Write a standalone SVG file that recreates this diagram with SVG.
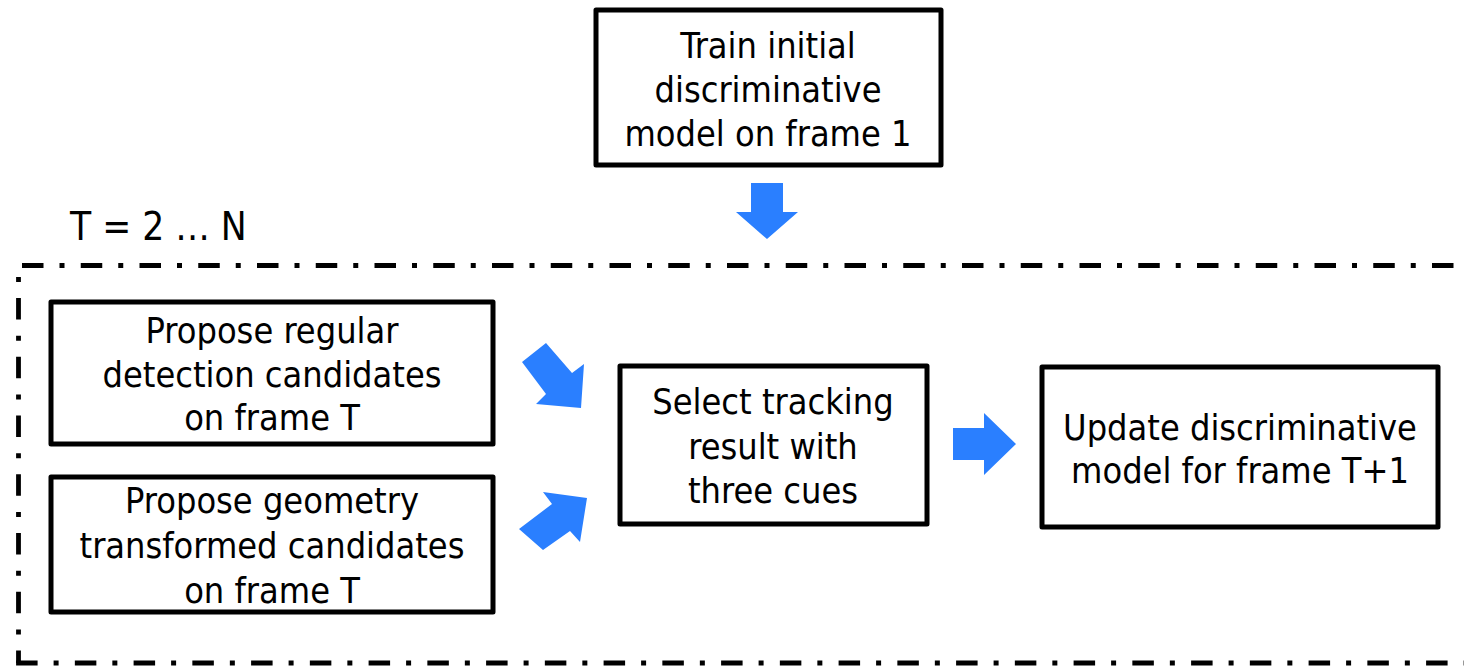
<svg xmlns="http://www.w3.org/2000/svg" width="1464" height="666" viewBox="0 0 1464 666">
<style>
.box{fill:#fff;stroke:#000;stroke-width:5;stroke-linejoin:round}
.t{font-family:"DejaVu Sans Condensed","DejaVu Sans",Tahoma,sans-serif;font-stretch:condensed;font-size:35.8px;fill:#000;text-anchor:middle}
.dd{fill:none;stroke:#000;stroke-width:4.8;stroke-dasharray:21.5 16 5 16.25}
.arr{fill:#2a7fff}
</style>
<rect width="1464" height="666" fill="#fff"/>
<g id="loop">
<line class="dd" x1="22" y1="265.5" x2="1464" y2="265.5"/>
<line class="dd" x1="18.5" y1="277" x2="18.5" y2="663" style="stroke-dasharray:5 16 21.5 16.25"/>
<line class="dd" x1="16.1" y1="663" x2="1464" y2="663"/>
<text class="t" x="70" y="240" style="text-anchor:start;font-size:38.5px">T = 2 … N</text>
</g>
<g id="train">
<rect class="box" x="596" y="10" width="345" height="155"/>
<text class="t" x="768" y="58">Train initial</text>
<text class="t" x="768" y="102">discriminative</text>
<text class="t" x="768" y="146">model on frame 1</text>
</g>
<g id="regular">
<rect class="box" x="51" y="302" width="442" height="142"/>
<text class="t" x="272" y="343">Propose regular</text>
<text class="t" x="272" y="387">detection candidates</text>
<text class="t" x="272" y="430">on frame T</text>
</g>
<g id="geometry">
<rect class="box" x="51" y="477" width="442" height="135"/>
<text class="t" x="272" y="513">Propose geometry</text>
<text class="t" x="272" y="558">transformed candidates</text>
<text class="t" x="272" y="603">on frame T</text>
</g>
<g id="select">
<rect class="box" x="620" y="366" width="307" height="158"/>
<text class="t" x="773" y="414">Select tracking</text>
<text class="t" x="773" y="459">result with</text>
<text class="t" x="773" y="503">three cues</text>
</g>
<g id="update">
<rect class="box" x="1042" y="367" width="396" height="160"/>
<text class="t" x="1240" y="440">Update discriminative</text>
<text class="t" x="1240" y="483">model for frame T+1</text>
</g>
<g id="connectors">
<polygon class="arr" points="751,183 783,183 783,212 798,212 767,239 736,212 751,212"/>
<polygon class="arr" points="953,428 984,428 984,413 1016,444 984,475 984,460 953,460"/>
<polygon class="arr" points="522,362 546,343 572,373 584,364 581,408 536,404 546,394"/>
<polygon class="arr" points="519,529 552,504 543,492 587,498 580,542 570,531 543,550"/>
</g>
</svg>
